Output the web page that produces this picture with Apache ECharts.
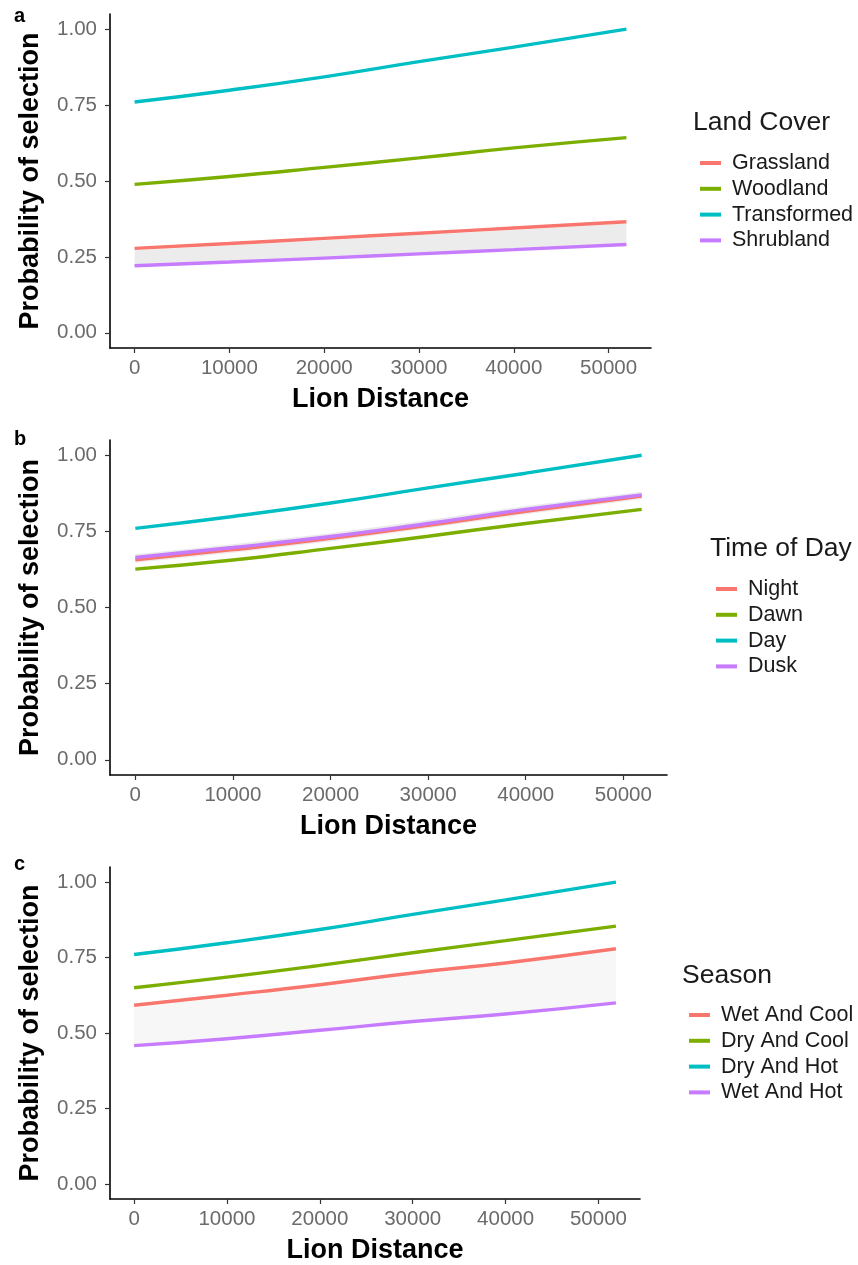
<!DOCTYPE html>
<html><head><meta charset="utf-8">
<script src="https://cdn.jsdelivr.net/npm/echarts@6/dist/echarts.min.js"></script>
<style>html,body{margin:0;padding:0;background:#fff}#c{width:858px;height:1265px}</style>
</head><body><div id="c"></div>
<script>
// ---- data ----
const distance = [0, 10000, 20000, 30000, 40000, 51880];
const xTicks = [0, 10000, 20000, 30000, 40000, 50000];
const yTicks = [0, 0.25, 0.5, 0.75, 1.0];

// panel a: Land Cover
const landNames = ['Grassland', 'Woodland', 'Transformed', 'Shrubland'];
const grassland   = [0.278, 0.294, 0.311, 0.328, 0.345, 0.366];
const woodland    = [0.489, 0.515, 0.545, 0.576, 0.609, 0.643];
const transformed = [0.760, 0.799, 0.843, 0.893, 0.941, 1.000];
const shrubland   = [0.221, 0.233, 0.246, 0.260, 0.274, 0.291];
const ribbonALow  = [0.221, 0.233, 0.246, 0.260, 0.274, 0.291];
const ribbonAHigh = [0.272, 0.288, 0.305, 0.322, 0.339, 0.360];

// panel b: Time of Day
const timeNames = ['Night', 'Dawn', 'Day', 'Dusk'];
const night = [0.657, 0.690, 0.727, 0.770, 0.816, 0.866];
const dawn  = [0.626, 0.656, 0.694, 0.734, 0.776, 0.822];
const day   = [0.760, 0.799, 0.843, 0.893, 0.941, 1.000];
const dusk  = [0.664, 0.697, 0.733, 0.776, 0.822, 0.870];
const ribbonBLow  = [0.647, 0.680, 0.717, 0.760, 0.806, 0.856];
const ribbonBHigh = [0.675, 0.708, 0.744, 0.787, 0.833, 0.880];

// panel c: Season
const seasonNames = ['Wet And Cool', 'Dry And Cool', 'Dry And Hot', 'Wet And Hot'];
const wetCool = [0.592, 0.625, 0.660, 0.699, 0.732, 0.779];
const dryCool = [0.650, 0.685, 0.724, 0.766, 0.806, 0.854];
const dryHot  = [0.760, 0.799, 0.843, 0.893, 0.941, 1.000];
const wetHot  = [0.458, 0.481, 0.509, 0.538, 0.563, 0.600];
const ribbonCLow  = [0.458, 0.481, 0.509, 0.538, 0.563, 0.600];
const ribbonCHigh = [0.585, 0.618, 0.653, 0.692, 0.725, 0.772];

const colors = ['#F8766D', '#7CAE00', '#00BFC4', '#C77CFF'];
const FONT = '"Liberation Sans", Arial, Helvetica, sans-serif';

// ---- build ----
const pairs = v => distance.map((x, i) => [x, v[i]]);

const grids = [
  {left: 110, top: 14,  width: 541, height: 334},
  {left: 110, top: 440, width: 557, height: 335},
  {left: 110, top: 867, width: 530, height: 334}
];

function xAxis(i) {
  return {
    type: 'value', gridIndex: i, min: -2594, max: 54474,
    name: 'Lion Distance', nameLocation: 'middle', nameGap: 38,
    nameTextStyle: {fontFamily: FONT, fontWeight: 'bold', fontSize: 27, color: '#000'},
    axisLine: {show: true, onZero: false, lineStyle: {color: '#000', width: 1.6}},
    axisTick: {show: true, length: 5, customValues: xTicks, lineStyle: {color: '#333', width: 1.2}},
    axisLabel: {customValues: xTicks, margin: 10, fontFamily: FONT, fontSize: 20.5, color: '#6b6b6b',
      formatter: v => String(v)},
    splitLine: {show: false}
  };
}
function yAxis(i) {
  return {
    type: 'value', gridIndex: i, min: -0.05, max: 1.05,
    name: 'Probability of selection', nameLocation: 'middle', nameGap: 66, nameRotate: 90,
    nameTextStyle: {fontFamily: FONT, fontWeight: 'bold', fontSize: 27, color: '#000'},
    axisLine: {show: true, onZero: false, lineStyle: {color: '#000', width: 1.6}},
    axisTick: {show: true, length: 5, customValues: yTicks, lineStyle: {color: '#333', width: 1.2}},
    axisLabel: {customValues: yTicks, margin: 13, fontFamily: FONT, fontSize: 20.5, color: '#6b6b6b',
      formatter: v => v.toFixed(2)},
    splitLine: {show: false}
  };
}

const series = [];
function addRibbon(gi, lo, hi, color) {
  series.push({
    type: 'custom', xAxisIndex: gi, yAxisIndex: gi, silent: true, z: 1,
    data: distance.map((x, i) => [x, lo[i], hi[i]]),
    encode: {x: 0, y: [1, 2]},
    renderItem: function (params, api) {
      if (params.dataIndexInside !== 0) return null;
      const n = params.dataInsideLength;
      const top = [], bot = [];
      for (let i = 0; i < n; i++) {
        top.push(api.coord([api.value(0, i), api.value(2, i)]));
        bot.push(api.coord([api.value(0, i), api.value(1, i)]));
      }
      return {type: 'polygon', shape: {points: top.concat(bot.reverse())},
        style: {fill: color, stroke: null}};
    }
  });
}
function addLines(gi, names, arrs) {
  names.forEach((n, k) => {
    series.push({type: 'line', name: n, xAxisIndex: gi, yAxisIndex: gi, data: pairs(arrs[k]),
      showSymbol: false, smooth: true, color: colors[k],
      lineStyle: {width: 3.4, color: colors[k]}, z: 2 + k});
  });
}
addRibbon(0, ribbonALow, ribbonAHigh, 'rgba(190,190,190,0.29)');
addLines(0, landNames, [grassland, woodland, transformed, shrubland]);
addRibbon(1, ribbonBLow, ribbonBHigh, 'rgba(190,190,190,0.33)');
addLines(1, timeNames, [night, dawn, day, dusk]);
addRibbon(2, ribbonCLow, ribbonCHigh, 'rgba(210,210,210,0.18)');
addLines(2, seasonNames, [wetCool, dryCool, dryHot, wetHot]);

function legend(names, left, top) {
  return {
    data: names, orient: 'vertical', left: left, top: top, icon: 'rect',
    itemWidth: 21, itemHeight: 4, itemGap: 3.8, selectedMode: false,
    textStyle: {fontFamily: FONT, fontSize: 21.5, color: '#1a1a1a', lineHeight: 22, padding: [0, 0, 0, 6]}
  };
}

const titles = [
  {text: 'Land Cover', x: 693, y: 124},
  {text: 'Time of Day', x: 710, y: 550},
  {text: 'Season', x: 682, y: 977}
];
const letters = [
  {text: 'a', x: 14, y: 26},
  {text: 'b', x: 14, y: 449},
  {text: 'c', x: 14, y: 874}
];
const graphic = [];
titles.forEach(t => graphic.push({type: 'text', left: t.x, top: t.y - 15,
  style: {text: t.text, fontFamily: FONT, fontSize: 26.5, fill: '#1a1a1a'}}));
letters.forEach(t => graphic.push({type: 'text', x: t.x, y: t.y,
  style: {text: t.text, fontFamily: FONT, fontWeight: 'bold', fontSize: 20, fill: '#000', verticalAlign: 'bottom'}}));

const chart = echarts.init(document.getElementById('c'), null, {renderer: 'canvas'});
chart.setOption({
  animation: false,
  backgroundColor: '#fff',
  grid: grids,
  xAxis: [0, 1, 2].map(xAxis),
  yAxis: [0, 1, 2].map(yAxis),
  legend: [
    legend(landNames, 695, 147),
    legend(timeNames, 711, 573),
    legend(seasonNames, 684, 999)
  ],
  graphic: graphic,
  series: series
});
</script></body></html>
